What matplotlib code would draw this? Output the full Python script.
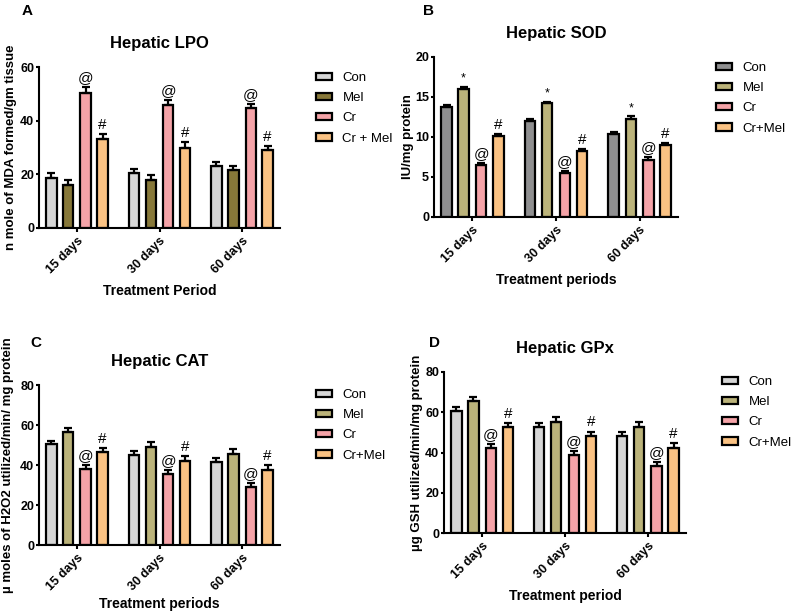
import matplotlib
matplotlib.use("Agg")
import matplotlib.pyplot as plt
from matplotlib.patches import Patch
import numpy as np

plt.rcParams['font.family'] = ['Liberation Sans', 'DejaVu Sans']

periods = ["15 days", "30 days", "60 days"]
groups_A = ["Con", "Mel", "Cr", "Cr + Mel"]
groups = ["Con", "Mel", "Cr", "Cr+Mel"]

# Panel A: Hepatic LPO
lpo_mean = {"Con": [18.7, 20.5, 23.1], "Mel": [16.1, 18.0, 21.5],
            "Cr": [50.4, 46.0, 44.6], "CrMel": [33.3, 30.0, 29.0]}
lpo_err = {"Con": [1.8, 1.6, 1.5], "Mel": [1.9, 1.8, 1.6],
           "Cr": [2.0, 1.6, 1.7], "CrMel": [1.6, 2.1, 1.6]}
# Panel B: Hepatic SOD
sod_mean = {"Con": [13.8, 12.0, 10.4], "Mel": [16.0, 14.2, 12.3],
            "Cr": [6.5, 5.5, 7.1], "CrMel": [10.1, 8.2, 9.0]}
sod_err = {"Con": [0.2, 0.25, 0.25], "Mel": [0.25, 0.2, 0.3],
           "Cr": [0.25, 0.3, 0.35], "CrMel": [0.25, 0.25, 0.2]}
# Panel C: Hepatic CAT
cat_mean = {"Con": [50.3, 45.0, 41.3], "Mel": [56.3, 49.1, 45.6],
            "Cr": [38.0, 35.3, 29.2], "CrMel": [46.3, 42.2, 37.6]}
cat_err = {"Con": [1.7, 2.0, 2.3], "Mel": [2.4, 2.2, 2.3],
           "Cr": [2.0, 2.2, 2.0], "CrMel": [2.3, 2.3, 2.2]}
# Panel D: Hepatic GPx
gpx_mean = {"Con": [60.4, 52.9, 48.4], "Mel": [65.4, 55.1, 52.9],
            "Cr": [42.1, 38.8, 33.4], "CrMel": [52.6, 48.3, 42.4]}
gpx_err = {"Con": [2.0, 1.7, 2.0], "Mel": [2.2, 2.3, 2.2],
           "Cr": [2.2, 2.1, 2.0], "CrMel": [2.0, 2.1, 2.2]}

keys = ["Con", "Mel", "Cr", "CrMel"]

W, H = 791, 615
fig = plt.figure(figsize=(W / 100, H / 100), dpi=100)


def px_axes(left, right, top, bottom):
    return fig.add_axes([left / W, 1 - bottom / H, (right - left) / W, (bottom - top) / H])


def draw_panel(box, means, errs, colors, ylim, yticks, title, ylabel, xlabel,
               labels, letter, letter_xy, legend_xy, ylabel_x, marks, xlabel_pad=6):
    ax = px_axes(*box)
    x = np.arange(len(periods))
    offsets = [-0.31, -0.105, 0.105, 0.31]
    bw = 0.125
    for k, off, col, lab in zip(keys, offsets, colors, labels):
        ax.bar(x + off, means[k], bw, yerr=[np.zeros(3), errs[k]], color=col,
               edgecolor='black', linewidth=1.6, label=lab,
               error_kw=dict(ecolor='black', elinewidth=1.6, capsize=2.6, capthick=1.6),
               zorder=2)
        if k in marks:
            for xi, m, e in zip(x, means[k], errs[k]):
                ax.annotate(marks[k], (xi + off, m + e), xytext=(0, 1.5),
                            textcoords='offset points', ha='center', va='bottom',
                            fontsize=11 if marks[k] != '*' else 9)
    ax.set_xlim(-0.46, 2.46)
    ax.set_ylim(*ylim)
    ax.set_yticks(yticks)
    ax.set_xticks(x)
    ax.set_xticklabels(periods, rotation=45, ha='right', rotation_mode='anchor',
                       fontsize=9, fontweight='bold')
    for lab in ax.get_yticklabels():
        lab.set_fontweight('bold')
        lab.set_fontsize(9)
    ax.spines['top'].set_visible(False)
    ax.spines['right'].set_visible(False)
    ax.spines['left'].set_linewidth(1.5)
    ax.spines['bottom'].set_linewidth(1.5)
    ax.tick_params(axis='y', width=1.5, length=2.5, pad=1)
    ax.tick_params(axis='x', width=1.5, length=3, pad=2)
    ax.set_title(title, fontsize=12, fontweight='bold', pad=14)
    ax.set_xlabel(xlabel, fontsize=10, fontweight='bold', labelpad=xlabel_pad)
    fig.text(ylabel_x / W, 1 - (box[2] + box[3]) / 2 / H, ylabel, rotation=90,
             fontsize=9.5, fontweight='bold', ha='center', va='center')
    fig.text(letter_xy[0] / W, 1 - letter_xy[1] / H, letter, fontsize=11,
             fontweight='bold', ha='left', va='top')
    handles = [Patch(facecolor=c, edgecolor='black', linewidth=1.6) for c in colors]
    fig.legend(handles, labels, loc='upper left',
               bbox_to_anchor=(legend_xy[0] / W, 1 - legend_xy[1] / H),
               frameon=False, fontsize=9.5, handlelength=1.2, handleheight=0.5,
               handletextpad=0.8, labelspacing=0.62, borderaxespad=0, borderpad=0)
    return ax


c_con_l = '#d6d6d6'
c_con_d = '#8f8f90'
c_mel_d = '#877839'
c_mel_l = '#bbb37a'
c_cr = '#f5a3a8'
c_crmel = '#fac283'

draw_panel((39, 280, 67, 228), lpo_mean, lpo_err,
           [c_con_l, c_mel_d, c_cr, c_crmel], (0, 60), [0, 20, 40, 60],
           "Hepatic LPO", "n mole of MDA formed/gm tissue", "Treatment Period",
           groups_A, "A", (22, 4), (316, 72), 11, {"Cr": "@", "CrMel": "#"})

draw_panel((434, 678, 57, 217), sod_mean, sod_err,
           [c_con_d, c_mel_l, c_cr, c_crmel], (0, 20), [0, 5, 10, 15, 20],
           "Hepatic SOD", "IU/mg protein", "Treatment periods",
           groups, "B", (423, 4), (716, 62), 408, {"Mel": "*", "Cr": "@", "CrMel": "#"})

draw_panel((39, 280, 385, 545), cat_mean, cat_err,
           [c_con_l, c_mel_l, c_cr, c_crmel], (0, 80), [0, 20, 40, 60, 80],
           "Hepatic CAT", "µ moles of H2O2 utilized/min/ mg protein", "Treatment periods",
           groups, "C", (30, 336), (316, 389), 8, {"Cr": "@", "CrMel": "#"},
           xlabel_pad=3)

draw_panel((444, 686, 372, 533), gpx_mean, gpx_err,
           [c_con_l, c_mel_l, c_cr, c_crmel], (0, 80), [0, 20, 40, 60, 80],
           "Hepatic GPx", "µg GSH utilized/min/mg protein", "Treatment period",
           groups, "D", (429, 336), (722, 376), 417, {"Cr": "@", "CrMel": "#"})

fig.savefig("out.png", dpi=100)
